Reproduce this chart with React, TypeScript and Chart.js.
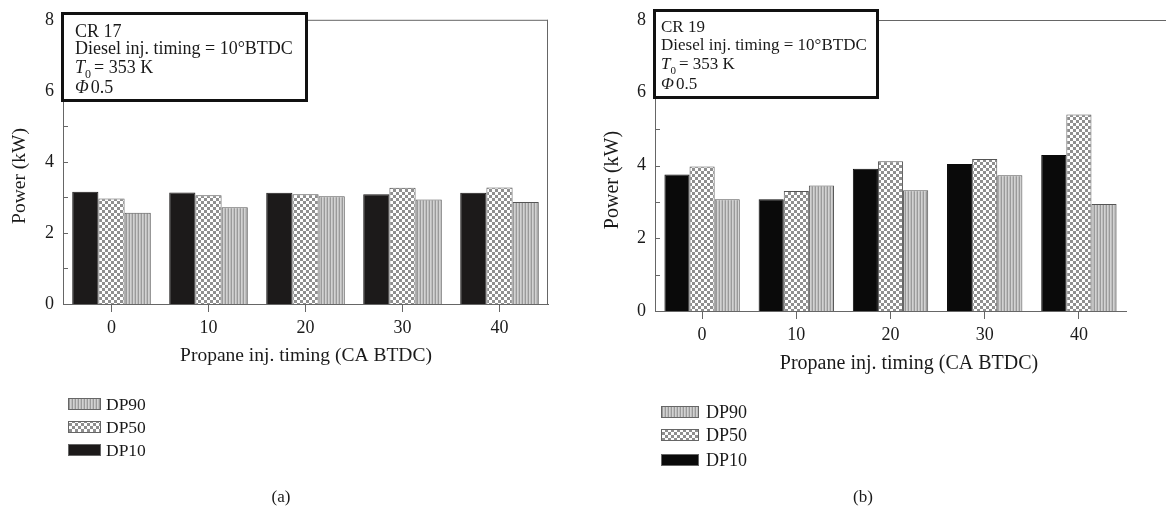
import React, { useEffect, useRef } from 'react';
import { Chart, registerables } from 'chart.js';

Chart.register(...registerables);

// ---------------- data ----------------
const categories = ['0', '10', '20', '30', '40'];
const seriesLabels = ['DP10', 'DP50', 'DP90'];

const cr17DP10 = [3.16, 3.14, 3.13, 3.09, 3.13];
const cr17DP50 = [2.97, 3.06, 3.09, 3.27, 3.28];
const cr17DP90 = [2.57, 2.72, 3.03, 2.94, 2.87];

const cr19DP10 = [3.75, 3.07, 3.91, 4.04, 4.29];
const cr19DP50 = [3.97, 3.3, 4.12, 4.18, 5.4];
const cr19DP90 = [3.07, 3.45, 3.32, 3.73, 2.94];

const yMin = 0;
const yMax = 8;
const yLabelledTicks = [0, 2, 4, 6, 8];

const xTitle = 'Propane inj. timing (CA BTDC)';
const yTitle = 'Power (kW)';
const dieselLine = 'Diesel inj. timing = 10°BTDC';
const tempLine = '= 353 K';
const phiLine = '0.5';
const cr17Title = 'CR 17';
const cr19Title = 'CR 19';
const panelA = '(a)';
const panelB = '(b)';

// ---------------- layout ----------------
const FONT = "'Liberation Serif', 'DejaVu Serif', serif";
const Y_W = 40;
const X_H = 40;
const H = 511;

type Panel = {
  canvasLeft: number;
  canvasWidth: number;
  area: { left: number; right: number; top: number; bottom: number };
  dp10: number[];
  dp50: number[];
  dp90: number[];
  dp10Color: string;
  crTitle: string;
  fs: number;
  box: { x: number; y: number; w: number; h: number };
  textX: number;
  baselines: number[];
  yTitlePos: { x: number; y: number };
  xTitlePos: { x: number; y: number };
  titleFs: number;
  legend: { x: number; w: number; h: number; tops: number[]; textX: number; fs: number };
  rightBorder: boolean;
  topLineEnd: number;
  catPct: number;
};

const panels: Panel[] = [
  {
    canvasLeft: 0,
    canvasWidth: 600,
    area: { left: 63, right: 548, top: 16, bottom: 304 },
    dp10: cr17DP10,
    dp50: cr17DP50,
    dp90: cr17DP90,
    dp10Color: '#1c1a1a',
    crTitle: cr17Title,
    fs: 18,
    box: { x: 61, y: 12, w: 247, h: 90 },
    textX: 75,
    baselines: [37, 54, 73, 93],
    yTitlePos: { x: 20, y: 176 },
    xTitlePos: { x: 306, y: 356 },
    titleFs: 19.5,
    legend: { x: 68, w: 33, h: 12, tops: [398, 421, 444], textX: 106, fs: 17.5 },
    rightBorder: true,
    topLineEnd: 548,
    catPct: 0.81,
  },
  {
    canvasLeft: 590,
    canvasWidth: 576,
    area: { left: 655, right: 1126, top: 20, bottom: 311 },
    dp10: cr19DP10,
    dp50: cr19DP50,
    dp90: cr19DP90,
    dp10Color: '#0a0a0a',
    crTitle: cr19Title,
    fs: 17,
    box: { x: 653, y: 9, w: 226, h: 90 },
    textX: 661,
    baselines: [32, 50, 69, 89],
    yTitlePos: { x: 613, y: 180 },
    xTitlePos: { x: 909, y: 364 },
    titleFs: 20,
    legend: { x: 661, w: 38, h: 12, tops: [406, 429, 454], textX: 706, fs: 18 },
    rightBorder: false,
    topLineEnd: 1170,
    catPct: 0.8,
  },
];

function makeChecker(): CanvasPattern | string {
  const c = document.createElement('canvas');
  c.width = 6;
  c.height = 6;
  const g = c.getContext('2d')!;
  g.fillStyle = '#ffffff';
  g.fillRect(0, 0, 6, 6);
  g.fillStyle = '#8f8f8f';
  g.fillRect(0, 0, 3, 3);
  g.fillRect(3, 3, 3, 3);
  return g.createPattern(c, 'repeat') || '#cccccc';
}

function makeStripes(): CanvasPattern | string {
  const c = document.createElement('canvas');
  c.width = 3;
  c.height = 3;
  const g = c.getContext('2d')!;
  const cols = ['#9a9a9a', '#d2d2d2', '#bebebe'];
  cols.forEach((col, i) => {
    g.fillStyle = col;
    g.fillRect(i, 0, 1, 3);
  });
  return g.createPattern(c, 'repeat') || '#bbbbbb';
}

function PanelChart({ p }: { p: Panel }) {
  const ref = useRef<HTMLCanvasElement | null>(null);
  useEffect(() => {
    const canvas = ref.current!;
    const checker = makeChecker();
    const stripes = makeStripes();
    const off = p.canvasLeft;
    const fills = [p.dp10Color, checker, stripes];

    const decor = {
      id: 'decor',
      afterDraw(chart: any) {
        const ctx: CanvasRenderingContext2D = chart.ctx;
        const ca = chart.chartArea;
        const ys = chart.scales.y;
        ctx.save();
        // inner y ticks
        ctx.strokeStyle = '#666';
        ctx.lineWidth = 1;
        ys.ticks.forEach((t: any) => {
          const py = Math.round(ys.getPixelForValue(t.value)) + 0.5;
          ctx.beginPath();
          ctx.moveTo(ca.left, py);
          ctx.lineTo(ca.left + 5, py);
          ctx.stroke();
        });
        // frame lines
        ctx.beginPath();
        ctx.moveTo(ca.left, ca.top + 0.5);
        ctx.lineTo(p.topLineEnd - off, ca.top + 0.5);
        ctx.stroke();
        if (p.rightBorder) {
          ctx.beginPath();
          ctx.moveTo(ca.right - 0.5, ca.top);
          ctx.lineTo(ca.right - 0.5, ca.bottom);
          ctx.stroke();
        }
        // annotation box
        const b = p.box;
        ctx.fillStyle = '#ffffff';
        ctx.fillRect(b.x - off, b.y, b.w, b.h);
        ctx.strokeStyle = '#111';
        ctx.lineWidth = 3;
        ctx.strokeRect(b.x - off + 1.5, b.y + 1.5, b.w - 3, b.h - 3);
        ctx.fillStyle = '#1a1a1a';
        ctx.textBaseline = 'alphabetic';
        ctx.textAlign = 'left';
        const tx = p.textX - off;
        const fs = p.fs;
        ctx.font = `${fs}px ${FONT}`;
        ctx.fillText(p.crTitle, tx, p.baselines[0]);
        ctx.fillText(dieselLine, tx, p.baselines[1]);
        ctx.font = `italic ${fs}px ${FONT}`;
        ctx.fillText('T', tx, p.baselines[2]);
        let w = ctx.measureText('T').width;
        ctx.font = `${Math.round(fs * 0.66)}px ${FONT}`;
        ctx.fillText('0', tx + w, p.baselines[2] + 5);
        w += ctx.measureText('0').width + 3;
        ctx.font = `${fs}px ${FONT}`;
        ctx.fillText(tempLine, tx + w, p.baselines[2]);
        ctx.font = `italic ${fs}px ${FONT}`;
        ctx.fillText('Φ', tx, p.baselines[3]);
        const pw = ctx.measureText('Φ').width;
        ctx.font = `${fs}px ${FONT}`;
        ctx.fillText(phiLine, tx + pw + 2, p.baselines[3]);
        // axis titles
        ctx.font = `${p.titleFs}px ${FONT}`;
        ctx.textAlign = 'center';
        ctx.textBaseline = 'middle';
        ctx.fillText(xTitle, p.xTitlePos.x - off, p.xTitlePos.y);
        ctx.save();
        ctx.translate(p.yTitlePos.x - off, p.yTitlePos.y);
        ctx.rotate(-Math.PI / 2);
        ctx.fillText(yTitle, 0, 0);
        ctx.restore();
        // legend (reverse order: DP90, DP50, DP10)
        const lg = p.legend;
        const ds = chart.data.datasets;
        ctx.textAlign = 'left';
        ctx.font = `${lg.fs}px ${FONT}`;
        for (let i = 0; i < ds.length; i++) {
          const d = ds[ds.length - 1 - i];
          const top = lg.tops[i];
          ctx.fillStyle = d.backgroundColor;
          ctx.fillRect(lg.x - off, top, lg.w, lg.h);
          ctx.strokeStyle = '#666';
          ctx.lineWidth = 1;
          ctx.strokeRect(lg.x - off + 0.5, top + 0.5, lg.w - 1, lg.h - 1);
          ctx.fillStyle = '#1a1a1a';
          ctx.fillText(d.label, lg.textX - off, top + lg.h / 2 + 1);
        }
        ctx.restore();
      },
    };

    const chart = new Chart(canvas, {
      type: 'bar',
      data: {
        labels: categories,
        datasets: [p.dp10, p.dp50, p.dp90].map((vals, i) => ({
          label: seriesLabels[i],
          data: vals,
          backgroundColor: fills[i] as any,
          borderColor: i === 0 ? p.dp10Color : '#555555',
          borderWidth: 1,
          categoryPercentage: p.catPct,
          barPercentage: 1,
        })),
      },
      options: {
        animation: false,
        responsive: false,
        devicePixelRatio: 1,
        layout: {
          padding: {
            left: p.area.left - off - Y_W,
            top: p.area.top,
            right: p.canvasLeft + p.canvasWidth - p.area.right,
            bottom: H - p.area.bottom - X_H,
          },
        },
        plugins: {
          legend: { display: false },
          tooltip: { enabled: false },
          title: { display: false },
        },
        scales: {
          x: {
            type: 'category',
            offset: true,
            grid: {
              display: true,
              drawOnChartArea: false,
              drawTicks: true,
              tickLength: 8,
              offset: false,
              color: '#666',
            },
            border: { display: true, color: '#666', width: 1 },
            ticks: {
              color: '#1a1a1a',
              font: { family: FONT, size: 18 },
              padding: 5,
              maxRotation: 0,
              autoSkip: false,
            },
            afterFit: (s: any) => {
              s.height = X_H;
            },
          },
          y: {
            min: yMin,
            max: yMax,
            grid: { display: false, drawTicks: false },
            border: { display: true, color: '#666', width: 1 },
            ticks: {
              stepSize: 1,
              autoSkip: false,
              padding: 9,
              color: '#1a1a1a',
              font: { family: FONT, size: 18 },
              callback: (v: any) => (yLabelledTicks.includes(Number(v)) ? String(v) : ''),
            },
            afterFit: (s: any) => {
              s.width = Y_W;
            },
          },
        },
      },
      plugins: [decor],
    } as any);
    return () => chart.destroy();
  }, [p]);

  return (
    <canvas
      ref={ref}
      width={p.canvasWidth}
      height={H}
      style={{ position: 'absolute', left: p.canvasLeft, top: 0, width: p.canvasWidth, height: H }}
    />
  );
}

export default function App() {
  const capStyle: React.CSSProperties = {
    position: 'absolute',
    top: 486,
    fontFamily: FONT,
    fontSize: 17,
    color: '#1a1a1a',
    transform: 'translateX(-50%)',
    lineHeight: '22px',
  };
  return (
    <div
      style={{
        position: 'absolute',
        left: 0,
        top: 0,
        width: 1166,
        height: H,
        overflow: 'hidden',
        background: '#ffffff',
      }}
    >
      {panels.map((p, i) => (
        <PanelChart key={i} p={p} />
      ))}
      <div style={{ ...capStyle, left: 281 }}>{panelA}</div>
      <div style={{ ...capStyle, left: 863 }}>{panelB}</div>
    </div>
  );
}
